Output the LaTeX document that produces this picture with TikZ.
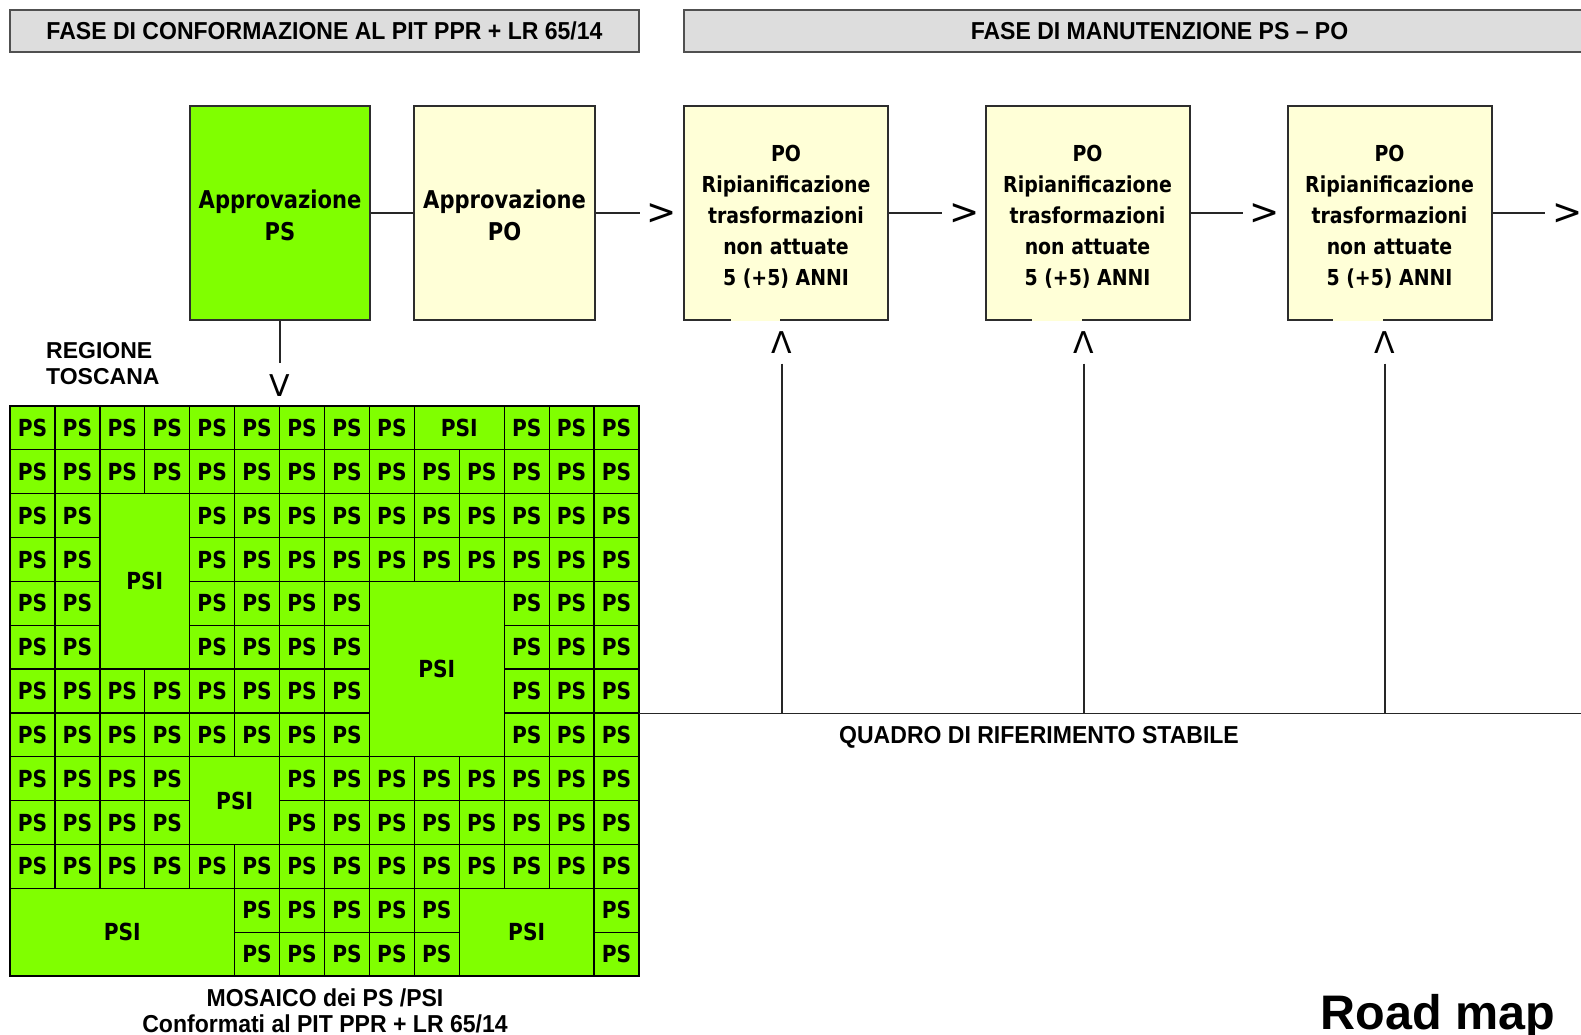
\documentclass[tikz,border=0pt]{standalone}
\usepackage{fontspec}
\setmainfont{Liberation Sans}
\newfontfamily\hdrfont{Liberation Sans}[FakeStretch=0.94]
\newfontfamily\tahfont{DejaVu Sans}[FakeStretch=0.86]
\newfontfamily\markfont{DejaVu Sans}
\definecolor{psgreen}{RGB}{128,255,0}
\definecolor{boxyellow}{RGB}{255,255,215}
\definecolor{hdrgray}{RGB}{221,221,221}
\definecolor{hdrborder}{RGB}{80,80,80}
\definecolor{boxborder}{RGB}{45,45,45}
\def\cellw{44.9286}
\def\cellh{43.8462}
\newcommand\pscell[2]{\node[cell,minimum width=\cellw pt,minimum height=\cellh pt] (c#1x#2) at ({10+(#1+0.5)*\cellw},{406+(#2+0.5)*\cellh}) {PS};}
\newcommand\psicell[5]{\node[cell,minimum width={#3*\cellw},minimum height={#4*\cellh}] (#5) at ({10+(#1+#3/2)*\cellw},{406+(#2+#4/2)*\cellh}) {PSI};}
\begin{document}
\begin{tikzpicture}[x=1pt,y=-1pt,
  hdr/.style={draw=hdrborder, fill=hdrgray, line width=2pt, inner sep=0pt, minimum height=42.5pt,
    font=\hdrfont\bfseries\fontsize{24.5}{26}\selectfont},
  psbox/.style={draw=boxborder, fill=psgreen, line width=2pt, inner sep=0pt, minimum width=180pt,
    minimum height=214pt, align=center, text height=54pt, text depth=0pt,
    font=\tahfont\bfseries\fontsize{24.5}{32}\selectfont},
  pobox/.style={psbox, fill=boxyellow},
  stepbox/.style={draw=boxborder, fill=boxyellow, line width=2pt, inner sep=0pt, minimum width=204pt,
    minimum height=214pt, align=center, text height=145pt, text depth=0pt,
    font=\tahfont\bfseries\fontsize{22}{31}\selectfont},
  conn/.style={line width=1.5pt, draw=black!85},
  chev/.style={inner sep=0pt, minimum width=44pt, font=\markfont\fontsize{36}{36}\selectfont},
  vmark/.style={inner sep=0pt, font=\markfont\fontsize{30}{30}\selectfont},
  cell/.style={draw=black, fill=psgreen, line width=1.3pt, inner sep=0pt,
    font=\tahfont\bfseries\fontsize{23.5}{24}\selectfont},
  label/.style={inner sep=0pt, font=\hdrfont\bfseries\fontsize{24.5}{26}\selectfont, align=center}
]
\useasboundingbox (0,0) rectangle (1581,1035);
\clip (0,0) rectangle (1581,1035);
\fill[white] (0,0) rectangle (1581,1035);

% headers
\node[hdr, minimum width=629pt] (h1) at (324.5,31.25) {FASE DI CONFORMAZIONE AL PIT PPR + LR 65/14};
\node[hdr, minimum width=951pt] (h2) at (1159.5,31.25) {FASE DI MANUTENZIONE PS – PO};

% top boxes
\node[psbox] (ps) at (280,213) {Approvazione\\PS};
\node[pobox, minimum width=181pt] (po) at (504.5,213) {Approvazione\\PO};
\node[stepbox] (b1) at (786,213) {PO\\Ripianificazione\\trasformazioni\\non attuate\\5 (+5) ANNI};
\node[stepbox] (b2) at (1087.5,213) {PO\\Ripianificazione\\trasformazioni\\non attuate\\5 (+5) ANNI};
\node[stepbox] (b3) at (1389.5,213) {PO\\Ripianificazione\\trasformazioni\\non attuate\\5 (+5) ANNI};

% gaps in bottom borders
\draw[line width=2.2pt, boxyellow] (731,320) -- (780,320);
\draw[line width=2.2pt, boxyellow] (1032,320) -- (1082,320);
\draw[line width=2.2pt, boxyellow] (1333,320) -- (1383,320);

% chevrons
\node[chev] (g0) at (662,214) {>};
\node[chev] (g1) at (964.5,214) {>};
\node[chev] (g2) at (1265,214) {>};
\node[chev] (g3) at (1567.5,214) {>};

\draw[conn] (ps.east) -- (po.west);
\draw[conn] (po.east) -- (g0.west |- po.east);
\draw[conn] (b1.east) -- (g1.west |- b1.east);
\draw[conn] (b2.east) -- (g2.west |- b2.east);
\draw[conn] (b3.east) -- (g3.west |- b3.east);

% down mark
\node[vmark, minimum height=46pt] (v) at (280,386) {V};
\draw[conn] (ps.south) -- (v.north);

% up marks
\node[vmark, minimum height=42pt] (l1) at (782,342.5) {Λ};
\node[vmark, minimum height=42pt] (l2) at (1084,342.5) {Λ};
\node[vmark, minimum height=42pt] (l3) at (1385,342.5) {Λ};

% regione toscana
\node[inner sep=0pt, anchor=west, align=left, font=\bfseries\fontsize{23}{26}\selectfont] (reg) at (46,364) {REGIONE\\TOSCANA};

% grid
\foreach \c in {0,1,2,3,4,5,6,7,8,11,12,13} {\pscell{\c}{0}}
\foreach \c in {0,1,2,3,4,5,6,7,8,9,10,11,12,13} {\pscell{\c}{1}}
\foreach \r in {2,3} {\foreach \c in {0,1,4,5,6,7,8,9,10,11,12,13} {\pscell{\c}{\r}}}
\foreach \r in {4,5} {\foreach \c in {0,1,4,5,6,7,11,12,13} {\pscell{\c}{\r}}}
\foreach \r in {6,7} {\foreach \c in {0,1,2,3,4,5,6,7,11,12,13} {\pscell{\c}{\r}}}
\foreach \r in {8,9} {\foreach \c in {0,1,2,3,6,7,8,9,10,11,12,13} {\pscell{\c}{\r}}}
\foreach \c in {0,1,2,3,4,5,6,7,8,9,10,11,12,13} {\pscell{\c}{10}}
\foreach \r in {11,12} {\foreach \c in {5,6,7,8,9,13} {\pscell{\c}{\r}}}
\psicell{9}{0}{2}{1}{psiA}
\psicell{2}{2}{2}{4}{psiB}
\psicell{8}{4}{3}{4}{psiC}
\psicell{4}{8}{2}{2}{psiD}
\psicell{0}{11}{5}{2}{psiE}
\psicell{10}{11}{3}{2}{psiF}

% stable frame line
\coordinate (qa) at (639,713.5);
\coordinate (qb) at (1581,713.5);
\coordinate (q1) at (782,713.5);
\coordinate (q2) at (1084,713.5);
\coordinate (q3) at (1385,713.5);
\draw[conn] (qa) -- (qb);
\draw[conn] (l1.south) -- (q1);
\draw[conn] (l2.south) -- (q2);
\draw[conn] (l3.south) -- (q3);

\node[label] (quadro) at (1039,737) {QUADRO DI RIFERIMENTO STABILE};
\node[label] (mosaico) at (325,1011) {MOSAICO dei PS /PSI\\Conformati al PIT PPR + LR 65/14};
\node[inner sep=0pt, anchor=base, font=\bfseries\fontsize{48.5}{48}\selectfont] (road) at (1438,1029) {Road map};
\end{tikzpicture}
\end{document}
